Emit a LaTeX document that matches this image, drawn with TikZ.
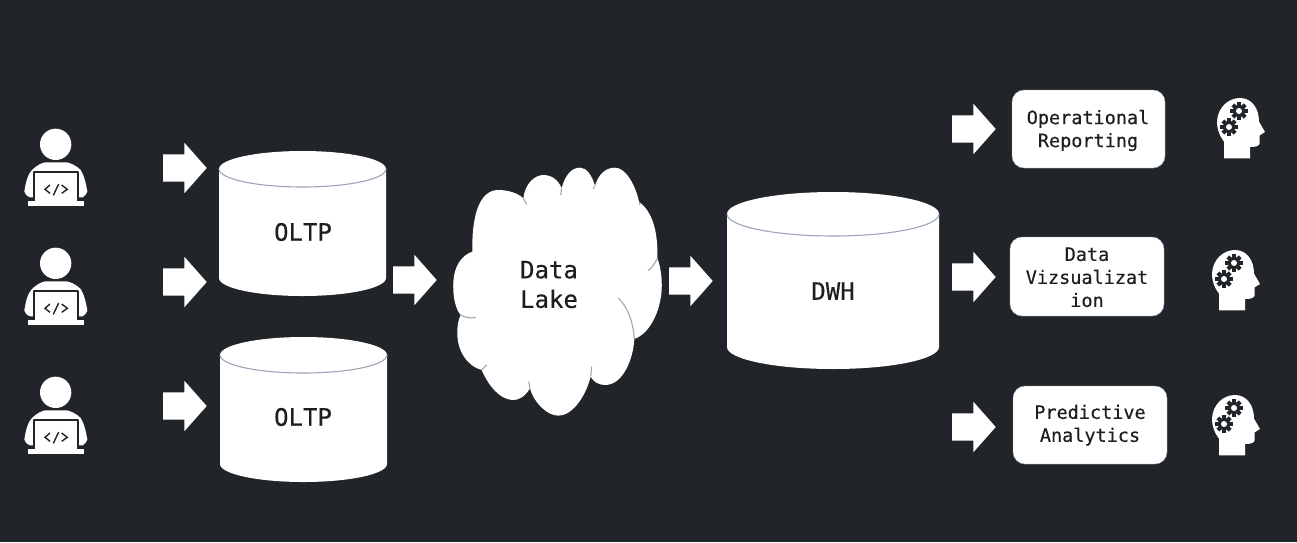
\documentclass[tikz,border=0pt]{standalone}
\usepackage{fontspec}
\newfontfamily\labelfont[FakeBold=0.35]{DejaVu Sans Mono}
\usetikzlibrary{shapes.arrows}
\definecolor{bg}{HTML}{212529}
\definecolor{ink}{HTML}{1C1E20}
\definecolor{edge}{HTML}{9AA6B8}
\tikzset{
  blockarrow/.style={single arrow,fill=white,draw=none,inner xsep=0pt,inner ysep=13.5pt,anchor=tail,
    minimum height=43.5pt,single arrow head extend=11.5pt,
    single arrow tip angle=97,single arrow head indent=0pt},
  reportbox/.style={rounded corners=12pt,fill=white,draw=edge,line width=.4pt},
  reporttext/.style={text=ink,font=\labelfont\fontsize{18.5}{23}\selectfont,align=center,inner sep=0pt},
  dblabel/.style={text=ink,font=\labelfont\fontsize{24}{29}\selectfont,align=center,inner sep=0pt},
  dbline/.style={draw=edge,line width=1.1pt},
  iconpart/.style={x=.33333pt,y=-.33333pt},
}
\newcommand{\dbshape}[5]{%
  \fill[white] (#1,#3) arc[start angle=180,end angle=360,x radius={(#2-#1)/2},y radius=#4]
    -- (#2,#5) arc[start angle=0,end angle=180,x radius={(#2-#1)/2},y radius=#4] -- cycle;
  \draw[dbline] (#1,#3) arc[start angle=180,end angle=0,x radius={(#2-#1)/2},y radius=#4];
}
\newcommand{\personicon}[2]{%
  \begin{scope}[shift={(#1,#2)},iconpart]
    \fill[white] (137,103) circle[radius=47];
    \fill[white] (43,245) .. controls (48,215) and (52,195) .. (66,180)
      .. controls (78,168) and (92,160) .. (105,157) -- (170,157)
      .. controls (185,160) and (200,168) .. (212,180)
      .. controls (222,195) and (228,220) .. (232,245)
      .. controls (230,252) and (225,258) .. (218,262) -- (60,262)
      .. controls (50,258) and (45,252) .. (43,245) -- cycle;
    \draw[bg,line width=2pt,fill=white,line join=round] (71,272) -- (71,186) -- (205,186) -- (205,272);
    \fill[white] (53,274) rectangle (221,288);
    \draw[bg,line width=1.4pt] (120,225) -- (105,238) -- (120,250)
      (130,256) -- (146,222) (155,225) -- (172,238) -- (155,250);
  \end{scope}}
\newcommand{\gearicon}[2]{%
  \fill[bg] (#1,#2) circle[radius=18];
  \foreach \a in {0,45,...,315}{
    \fill[bg,rotate around={\a:(#1,#2)}] (#1-6,#2-26) rectangle (#1+6,#2);
  }
  \fill[white] (#1,#2) circle[radius=9];}
\newcommand{\headicon}[2]{%
  \begin{scope}[shift={(#1,#2)},iconpart]
    \fill[white] (102,235) -- (102,185)
      .. controls (90,170) and (81,150) .. (81,125)
      .. controls (83,82) and (115,54) .. (150,54)
      .. controls (185,54) and (207,85) .. (207,125)
      -- (225,156) -- (209,166) -- (209,188)
      .. controls (209,197) and (200,201) .. (180,201)
      -- (180,235) -- cycle;
    \gearicon{147}{93}
    \gearicon{117}{141}
  \end{scope}}
\begin{document}
\begin{tikzpicture}[x=1pt,y=-1pt]
\useasboundingbox (0,0) rectangle (1297,542);
\fill[bg] (0,0) rectangle (1297,542);

\personicon{10}{110}
\personicon{10}{229}
\personicon{10}{358}

\node[blockarrow] (a1) at (163,168) {};
\node[blockarrow] (a2) at (163,282) {};
\node[blockarrow] (a3) at (163,406) {};
\node[blockarrow] (a4) at (393,280) {};
\node[blockarrow] (a5) at (669,281) {};
\node[blockarrow] (a6) at (952,129) {};
\node[blockarrow] (a7) at (952,277) {};
\node[blockarrow] (a8) at (952,427) {};

\dbshape{219}{386}{169}{18}{278}
\dbshape{220}{387}{355}{18}{464}
\dbshape{727}{939}{214}{22}{347}
\node[dblabel] (oltpa) at (303,232) {OLTP};
\node[dblabel] (oltpb) at (303,417) {OLTP};
\node[dblabel] (dwh) at (833,291) {DWH};

\begin{scope}[shift={(440,155)},iconpart]
  \fill[white] (97,290)
    .. controls (95,190) and (115,105) .. (175,105)
    .. controls (205,105) and (235,115) .. (250,130)
    .. controls (255,85) and (285,60) .. (310,60)
    .. controls (335,60) and (355,75) .. (365,100)
    .. controls (375,60) and (395,38) .. (420,38)
    .. controls (440,38) and (455,60) .. (465,92)
    .. controls (475,60) and (495,38) .. (525,38)
    .. controls (555,38) and (585,85) .. (597,140)
    .. controls (630,165) and (655,215) .. (652,310)
    .. controls (665,340) and (670,400) .. (660,440)
    .. controls (650,490) and (620,540) .. (583,552)
    .. controls (580,610) and (550,690) .. (495,690)
    .. controls (475,690) and (460,680) .. (452,665)
    .. controls (435,730) and (395,782) .. (355,782)
    .. controls (320,782) and (280,740) .. (270,700)
    .. controls (255,725) and (235,737) .. (215,735)
    .. controls (175,730) and (145,690) .. (125,645)
    .. controls (85,635) and (50,590) .. (52,530)
    .. controls (52,510) and (55,495) .. (62,480)
    .. controls (45,460) and (38,420) .. (40,380)
    .. controls (42,335) and (65,300) .. (97,290) -- cycle;
  \draw[dbline] (535,430) .. controls (560,450) and (580,500) .. (583,552);
  \draw[dbline] (652,310) .. controls (645,325) and (635,340) .. (624,347);
  \draw[dbline] (62,480) .. controls (75,487) and (90,490) .. (107,488);
  \draw[dbline] (250,130) -- (260,148);
  \draw[dbline] (465,92) -- (460,102);
  \draw[dbline] (365,100) -- (362,120);
  \draw[dbline] (597,140) -- (600,150);
  \draw[dbline] (452,665) -- (455,635);
  \draw[dbline] (270,700) -- (266,680);
  \draw[dbline] (125,645) -- (140,630);
\end{scope}
\node[dblabel,font=\labelfont\fontsize{24}{29.5}\selectfont] (lake) at (549,284.5) {Data\\Lake};

\draw[reportbox] (1012,90) rectangle (1165,168);
\draw[reportbox] (1010,237) rectangle (1164,316);
\draw[reportbox] (1013,386) rectangle (1167,464);
\node[reporttext] (r1) at (1088,130.5) {Operational\\Reporting};
\node[reporttext] (r2) at (1087,277.3) {Data\\Vizsualizat\\ion};
\node[reporttext] (r3) at (1090,425.2) {Predictive\\Analytics};

\headicon{1190}{80}
\headicon{1185}{232}
\headicon{1185}{377}
\end{tikzpicture}
\end{document}
